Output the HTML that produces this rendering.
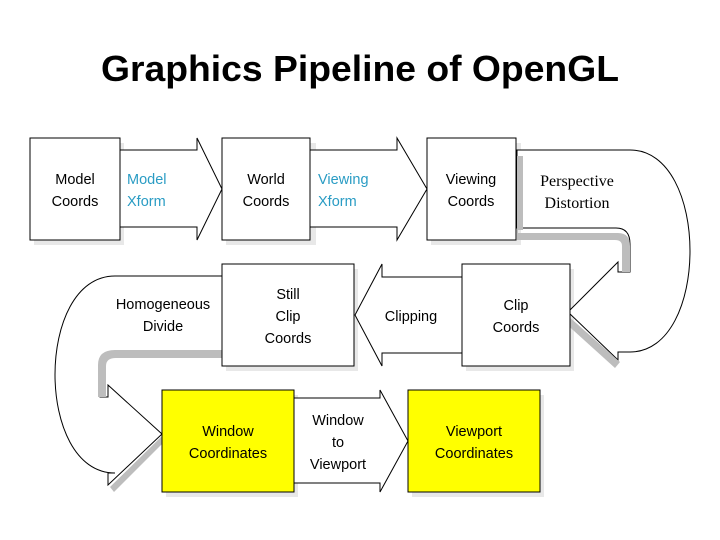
<!DOCTYPE html>
<html><head><meta charset="utf-8"><style>
html,body{margin:0;padding:0;background:#fff;}
svg{display:block;}
text{font-family:"Liberation Sans",sans-serif;font-size:14.5px;fill:#000;}
.t{fill:#2a9cc4;}
.s{font-family:"Liberation Serif",serif;font-size:16px;}
</style></head><body>
<svg width="720" height="540" viewBox="0 0 720 540" xmlns="http://www.w3.org/2000/svg">
<text x="360" y="81" text-anchor="middle" style="font-size:36px;font-weight:bold" textLength="518" lengthAdjust="spacingAndGlyphs">Graphics Pipeline of OpenGL</text>
<g fill="#e8e8e8" stroke="none">
<rect x="34" y="143" width="90" height="102"/><rect x="226" y="143" width="90" height="102"/><rect x="431" y="143" width="90" height="102"/>
<rect x="466" y="269" width="108" height="102"/><rect x="226" y="269" width="132" height="102"/>
<rect x="166" y="395" width="132" height="102"/><rect x="412" y="395" width="132" height="102"/>
</g>
<g fill="#fff" stroke="#000" stroke-width="1">
<path d="M517 150 L630 150 C710 150 710 352 630 352 L618 352 L618 360 L568 312 L618 262 L618 272 L630 272 L630 244 Q630 228 616 228 L517 228 Z"/>
<path d="M222 276 L115 276 C35 276 35 473 115 473 L108 473 L108 485 L162 434 L108 385 L108 397 L100 397 L100 366 Q100 352 115 352 L222 352 Z"/>
</g>
<path d="M517 226 L518 226 L518 233 L618 233 Q630 233 630 246 L630 272 L622 272 L622 246 Q622 240 615 240 L517 240 Z" fill="#bdbdbd"/>
<rect x="517" y="156" width="6" height="74" fill="#bdbdbd"/>
<path d="M567 315 L620 362 L615 368 L563 321 Z" fill="#bdbdbd"/>
<path d="M222 350 L115 350 Q98 350 98 365 L98 397 L106 397 L106 366 Q106 358 116 358 L222 358 Z" fill="#bdbdbd"/>
<path d="M162 436 L110 487 L114 492 L166 440 Z" fill="#bdbdbd"/>
<g fill="#fff" stroke="#000" stroke-width="1">
<path d="M120 150 L197 150 L197 138 L222 189 L197 240 L197 227 L120 227 Z"/>
<path d="M310 150 L397 150 L397 138 L427 189 L397 240 L397 227 L310 227 Z"/>
<path d="M462 277 L382 277 L382 264 L355 315 L382 366 L382 353 L462 353 Z"/>
<path d="M294 398 L380 398 L380 390 L408 441 L380 492 L380 483 L294 483 Z"/>
<rect x="30" y="138" width="90" height="102"/>
<rect x="222" y="138" width="88" height="102"/>
<rect x="427" y="138" width="89" height="102"/>
<rect x="462" y="264" width="108" height="102"/>
<rect x="222" y="264" width="132" height="102"/>
<rect x="162" y="390" width="132" height="102" fill="#ffff00"/>
<rect x="408" y="390" width="132" height="102" fill="#ffff00"/>
</g>
<g text-anchor="middle">
<text x="75" y="184">Model</text><text x="75" y="206">Coords</text>
<text x="266" y="184">World</text><text x="266" y="206">Coords</text>
<text x="471" y="184">Viewing</text><text x="471" y="206">Coords</text>
<text x="516" y="310">Clip</text><text x="516" y="332">Coords</text>
<text x="288" y="299">Still</text><text x="288" y="321">Clip</text><text x="288" y="343">Coords</text>
<text x="163" y="309">Homogeneous</text><text x="163" y="331">Divide</text>
<text x="411" y="321">Clipping</text>
<text x="228" y="436">Window</text><text x="228" y="458">Coordinates</text>
<text x="474" y="436">Viewport</text><text x="474" y="458">Coordinates</text>
<text x="338" y="425">Window</text><text x="338" y="447">to</text><text x="338" y="469">Viewport</text>
<text class="s" x="577" y="186">Perspective</text><text class="s" x="577" y="208">Distortion</text>
</g>
<text class="t" x="127" y="184">Model</text><text class="t" x="127" y="206">Xform</text>
<text class="t" x="318" y="184">Viewing</text><text class="t" x="318" y="206">Xform</text>
</svg>
</body></html>
